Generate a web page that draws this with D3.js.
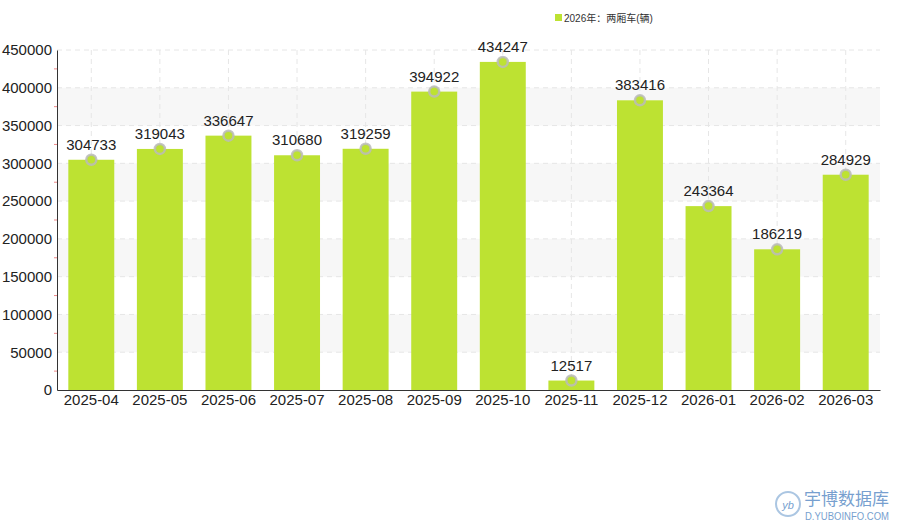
<!DOCTYPE html>
<html><head><meta charset="utf-8">
<script src="https://cdn.jsdelivr.net/npm/d3@7"></script>
<style>body{margin:0;background:#fff}text{font-family:"Liberation Sans","Noto Sans CJK SC",sans-serif}</style>
</head><body><svg id="c" width="900" height="530"></svg>
<script>
const months = ['2025-04','2025-05','2025-06','2025-07','2025-08','2025-09','2025-10','2025-11','2025-12','2026-01','2026-02','2026-03'];
const values = [304733,319043,336647,310680,319259,394922,434247,12517,383416,243364,186219,284929];
const yTicks = [0,50000,100000,150000,200000,250000,300000,350000,400000,450000];
const seriesName = '2026年：两厢车(辆)';

const svg = d3.select('#c');
const m = {l:57, r:880, t:50, b:390};
const x = d3.scaleBand().domain(months).range([m.l, m.r]).paddingInner(0.33).paddingOuter(0.165);
const y = d3.scaleLinear().domain([0,450000]).range([m.b, m.t]);

// alternating bands
for (let i = 0; i < yTicks.length - 1; i++) {
  if (i % 2 === 1) svg.append('rect').attr('x', m.l).attr('width', m.r - m.l)
    .attr('y', y(yTicks[i+1])).attr('height', y(yTicks[i]) - y(yTicks[i+1])).attr('fill', '#f7f7f7');
}
// grid
svg.selectAll('.hg').data(yTicks.slice(1)).join('line')
  .attr('x1', m.l).attr('x2', m.r).attr('y1', d => y(d)).attr('y2', d => y(d))
  .attr('stroke', '#e6e6e6').attr('stroke-dasharray', '5,4');
svg.selectAll('.vg').data(months).join('line')
  .attr('x1', d => x(d) + x.bandwidth()/2).attr('x2', d => x(d) + x.bandwidth()/2)
  .attr('y1', m.t).attr('y2', m.b).attr('stroke', '#e6e6e6').attr('stroke-dasharray', '5,4');

// bars
svg.selectAll('.bar').data(values).join('rect')
  .attr('x', (d, i) => x(months[i])).attr('width', x.bandwidth())
  .attr('y', d => y(d)).attr('height', d => m.b - y(d)).attr('fill', '#bde232');

// markers
const cx = (d, i) => x(months[i]) + x.bandwidth()/2;
svg.selectAll('.ring').data(values).join('circle')
  .attr('cx', cx).attr('cy', d => y(d)).attr('r', 5)
  .attr('fill', '#bde232').attr('stroke', '#bbb').attr('stroke-width', 2.5).attr('stroke-opacity', 0.85);

// labels
svg.selectAll('.lbl').data(values).join('text')
  .attr('x', cx).attr('y', d => y(d) - 10).attr('text-anchor', 'middle')
  .attr('font-size', 15).attr('fill', '#222').text(d => d);

// axes
const ya = svg.append('g').attr('transform', `translate(${m.l},0)`)
  .call(d3.axisLeft(y).tickValues(yTicks).tickFormat(d => d).tickSize(0).tickPadding(5));
ya.select('.domain').attr('stroke', '#333');
ya.selectAll('text').attr('font-size', 15).attr('fill', '#222');
svg.selectAll('.minor').data(yTicks.slice(0, -1)).join('line')
  .attr('x1', m.l - 3).attr('x2', m.l).attr('y1', d => y(d + 25000)).attr('y2', d => y(d + 25000))
  .attr('stroke', '#e88');

const xa = svg.append('g').attr('transform', `translate(0,${m.b})`)
  .call(d3.axisBottom(x).tickSize(0).tickPadding(4));
xa.select('.domain').attr('stroke', '#333');
xa.selectAll('text').attr('font-size', 15).attr('fill', '#222');

// legend
svg.append('rect').attr('x', 555).attr('y', 14).attr('width', 7).attr('height', 7).attr('fill', '#bde232');
svg.append('text').attr('x', 564).attr('y', 21.5).attr('font-size', 10).attr('fill', '#333').text(seriesName);

// watermark
const wm = svg.append('g').attr('opacity', 0.75);
wm.append('circle').attr('cx', 788).attr('cy', 504).attr('r', 12).attr('fill', 'none').attr('stroke', '#8fb3d9').attr('stroke-width', 2);
wm.append('text').attr('x', 788).attr('y', 509).attr('text-anchor', 'middle').attr('font-size', 11).attr('font-style', 'italic').attr('fill', '#4a7fc0').text('yb');
wm.append('text').attr('x', 804).attr('y', 505).attr('font-size', 17).attr('font-family', 'Noto Sans CJK SC').attr('fill', '#4a7fc0').text('宇博数据库');
wm.append('text').attr('x', 805).attr('y', 520).attr('font-size', 10.5).attr('textLength', 84).attr('lengthAdjust', 'spacingAndGlyphs').attr('fill', '#4a7fc0').text('D.YUBOINFO.COM');
</script></body></html>
